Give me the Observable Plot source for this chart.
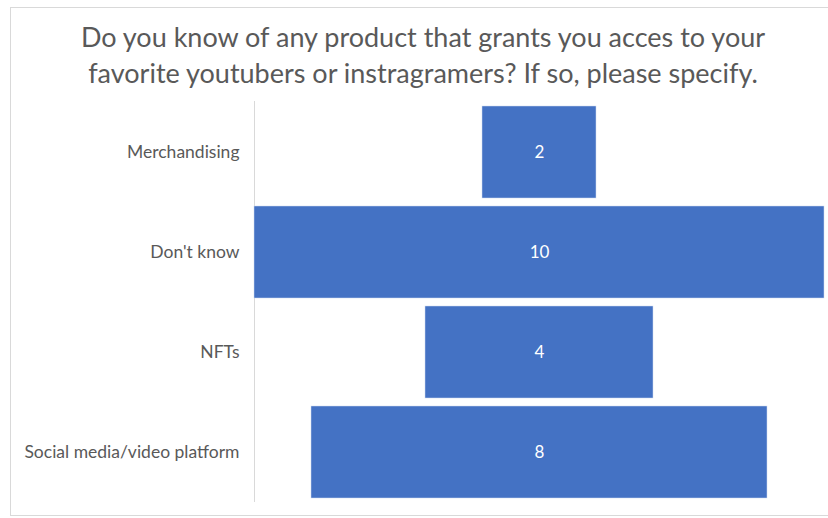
<!DOCTYPE html>
<html>
<head>
<meta charset="utf-8">
<script src="https://cdn.jsdelivr.net/npm/d3@7"></script>
<script src="https://cdn.jsdelivr.net/npm/@observablehq/plot@0.6"></script>
<style>
  html, body { margin: 0; padding: 0; background: #fff; }
  #frame { position: absolute; left: 10px; top: 7px; width: 830px; height: 509px; border: 1px solid #d9d9d9; box-sizing: border-box; }
  #title { position: absolute; left: 0; top: 0; width: 846px; height: 100px; text-align: center; font-family: Lato, sans-serif; font-size: 27px; line-height: 36px; color: #595959; padding-top: 19px; box-sizing: border-box; }
  #chart { position: absolute; left: 0; top: 100px; }
</style>
</head>
<body>
<div id="frame"></div>
<div id="title">Do you know of any product that grants you acces to your<br>favorite youtubers or instragramers? If so, please specify.</div>
<div id="chart"></div>
<script>
const categories = ["Merchandising", "Don't know", "NFTs", "Social media/video platform"];
const values = [2, 10, 4, 8];

const data = categories.map((c, i) => ({category: c, value: values[i]}));

const chart = Plot.plot({
  width: 828,
  height: 418,
  marginLeft: 254,
  marginRight: 4,
  marginTop: 1,
  marginBottom: 16,
  style: {fontFamily: "Lato, sans-serif", background: "transparent"},
  x: {domain: [-5, 5], axis: null},
  y: {domain: categories, paddingInner: 0.08, paddingOuter: 0.04, label: null, tickSize: 0, tickPadding: 15},
  marks: [
    Plot.axisY({tickSize: 0, tickPadding: 15, fontSize: 17.5, color: "#595959", label: null}),
    Plot.ruleX([-5], {stroke: "#d9d9d9", strokeWidth: 1}),
    Plot.barX(data, {y: "category", x1: d => -d.value / 2, x2: d => d.value / 2, fill: "#4472C4", stroke: "#d0dcf0", strokeWidth: 0.5}),
    Plot.text(data, {y: "category", x: 0, text: d => String(d.value), fill: "white", fontSize: 17})
  ]
});
document.getElementById("chart").appendChild(chart);
</script>
</body>
</html>
